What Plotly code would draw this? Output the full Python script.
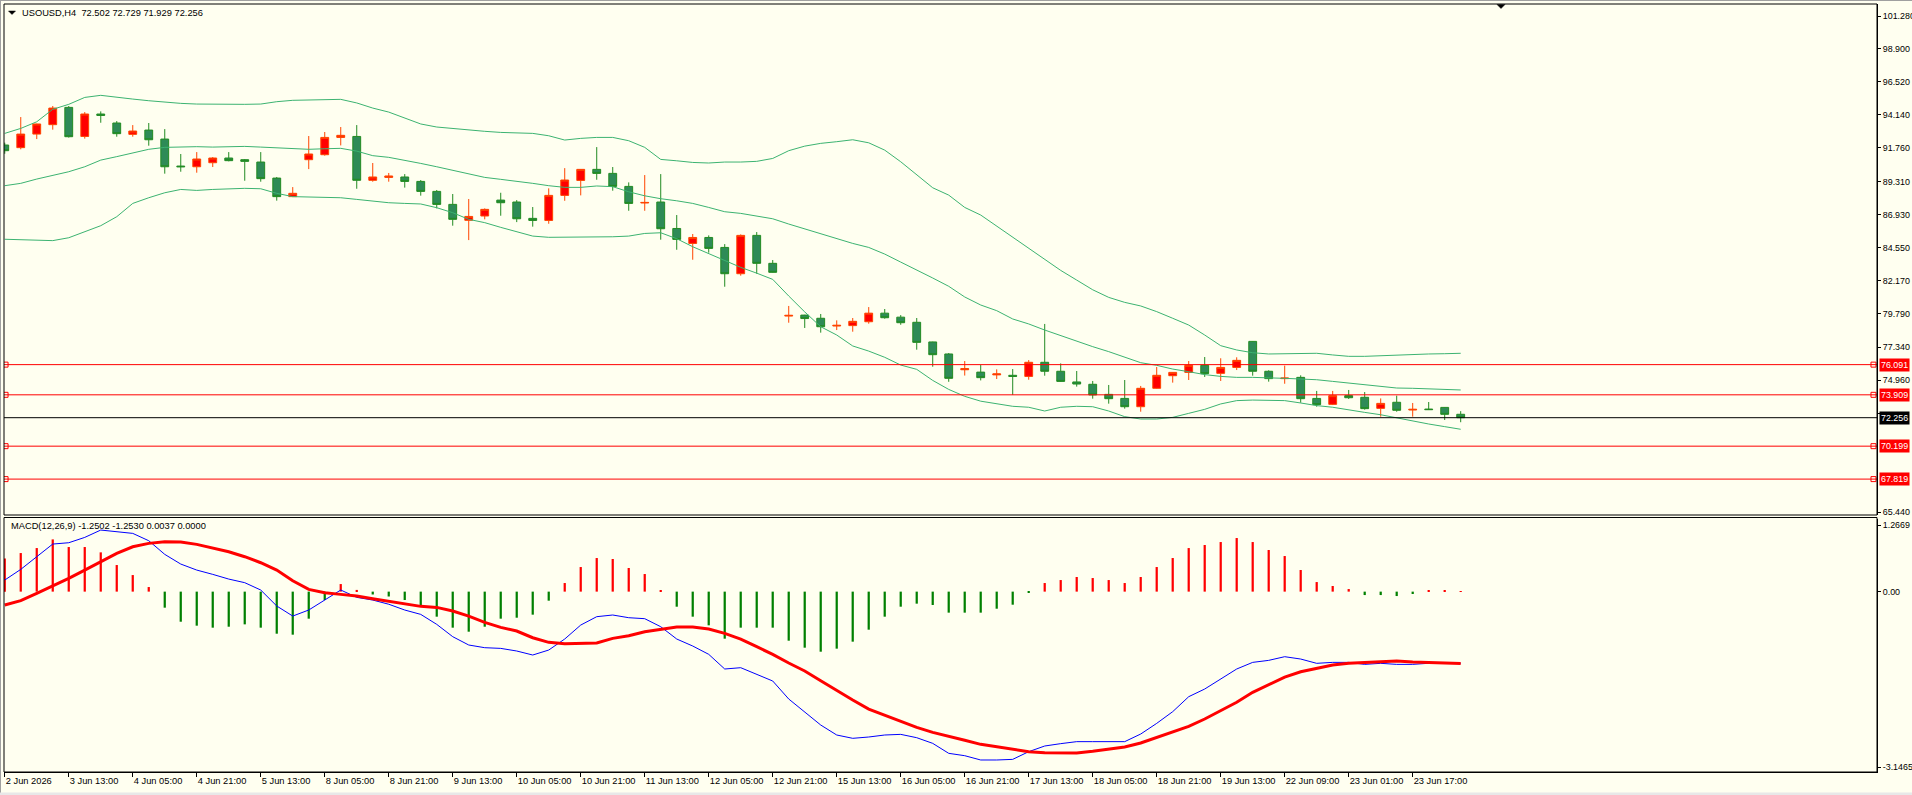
import plotly.graph_objects as go

# ---------------- data ----------------
time_labels = ["2 Jun 2026", "3 Jun 13:00", "4 Jun 05:00", "4 Jun 21:00", "5 Jun 13:00",
               "8 Jun 05:00", "8 Jun 21:00", "9 Jun 13:00", "10 Jun 05:00", "10 Jun 21:00",
               "11 Jun 13:00", "12 Jun 05:00", "12 Jun 21:00", "15 Jun 13:00", "16 Jun 05:00",
               "16 Jun 21:00", "17 Jun 13:00", "18 Jun 05:00", "18 Jun 21:00", "19 Jun 13:00",
               "22 Jun 09:00", "23 Jun 01:00", "23 Jun 17:00"]
time_label_bar = [0, 4, 8, 12, 16, 20, 24, 28, 32, 36, 40, 44, 48, 52, 56, 60, 64, 68, 72, 76, 80, 84, 88]

opens = [91.96, 91.77, 92.75, 93.43, 94.68, 92.58, 94.20, 93.55, 92.73, 93.04,
         92.39, 90.44, 90.39, 90.68, 91.02, 90.90, 90.73, 89.57, 88.23, 90.90,
         91.26, 92.51, 92.58, 89.41, 89.62, 89.65, 89.33, 88.61, 87.67, 86.52,
         86.83, 87.98, 87.84, 86.66, 86.51, 88.32, 89.40, 90.20, 89.91, 88.97,
         87.77, 87.84, 85.93, 84.85, 85.28, 84.56, 82.66, 85.43, 83.41, 79.60,
         79.67, 79.44, 78.88, 78.91, 79.19, 79.81, 79.52, 79.15, 77.73, 76.86,
         75.72, 75.55, 75.35, 75.32, 75.24, 76.26, 75.61, 74.84, 74.67, 73.94,
         73.65, 73.05, 74.38, 75.29, 75.53, 76.04, 75.46, 75.89, 77.77, 75.61,
         75.08, 75.17, 73.65, 73.22, 73.85, 73.73, 72.93, 73.37, 72.81, 72.88,
         73.00, 72.502]
highs = [92.13, 93.98, 93.50, 94.78, 94.78, 94.34, 94.39, 93.69, 93.40, 93.55,
         93.11, 91.31, 91.45, 91.09, 91.45, 90.95, 91.45, 89.65, 88.92, 92.61,
         92.90, 93.26, 93.40, 90.66, 89.94, 89.86, 89.43, 88.71, 88.42, 88.06,
         87.38, 88.51, 87.98, 87.48, 88.83, 90.29, 90.22, 91.81, 90.37, 89.26,
         89.79, 89.86, 86.90, 85.53, 85.43, 84.80, 85.50, 85.67, 83.65, 80.33,
         79.69, 79.75, 79.29, 79.46, 80.25, 80.11, 79.67, 79.46, 77.75, 76.93,
         76.35, 76.06, 75.75, 75.77, 76.42, 79.03, 76.18, 75.63, 74.91, 74.62,
         74.98, 74.55, 75.92, 75.55, 76.35, 76.64, 76.55, 76.62, 77.79, 75.68,
         76.02, 75.32, 74.19, 74.19, 74.26, 74.11, 73.65, 73.85, 73.32, 73.39,
         73.02, 72.729]
lows = [91.33, 91.65, 92.39, 93.07, 92.50, 92.42, 93.57, 92.56, 92.56, 91.91,
        89.89, 90.03, 89.96, 90.37, 90.78, 89.38, 89.31, 87.94, 88.20, 90.22,
        91.19, 91.93, 88.80, 89.31, 89.31, 88.88, 88.30, 87.38, 86.13, 85.09,
        86.59, 86.85, 86.39, 86.06, 86.27, 87.93, 88.32, 89.45, 88.66, 87.21,
        87.21, 85.12, 84.39, 83.67, 84.18, 81.72, 82.52, 82.66, 82.74, 79.12,
        78.74, 78.40, 78.59, 78.47, 79.05, 79.41, 78.97, 77.17, 75.94, 74.85,
        75.30, 74.95, 75.05, 73.90, 75.00, 75.29, 74.85, 74.50, 73.63, 73.27,
        72.91, 72.69, 74.35, 74.79, 74.98, 75.20, 74.91, 75.70, 75.29, 74.86,
        74.71, 73.34, 73.05, 73.17, 73.61, 72.84, 72.33, 72.69, 72.33, 72.81,
        72.09, 71.929]
closes = [91.55, 92.75, 93.48, 94.63, 92.56, 94.20, 94.10, 92.78, 92.97, 92.34,
          90.39, 90.39, 90.95, 91.02, 90.83, 90.78, 89.53, 88.23, 88.47, 91.31,
          92.51, 92.66, 89.41, 89.65, 89.72, 89.33, 88.61, 87.67, 86.59, 86.80,
          87.31, 87.79, 86.63, 86.51, 88.32, 89.43, 90.20, 89.91, 88.97, 87.74,
          87.81, 85.91, 85.14, 85.28, 84.49, 82.66, 85.43, 83.41, 82.76, 79.65,
          79.42, 78.83, 78.93, 79.22, 79.81, 79.48, 79.12, 77.70, 76.81, 75.10,
          75.80, 75.15, 75.42, 75.24, 76.26, 75.61, 74.88, 74.69, 73.90, 73.63,
          73.05, 74.38, 75.32, 75.53, 76.04, 75.44, 75.89, 76.40, 75.61, 75.08,
          75.12, 73.63, 73.20, 73.85, 73.70, 72.91, 73.29, 72.79, 72.86, 72.84,
          72.50, 72.256]

bb_upper = [92.80, 93.16, 93.64, 94.54, 94.90, 95.40, 95.55, 95.40, 95.28, 95.16,
            95.04, 94.97, 94.92, 94.90, 94.90, 94.90, 94.92, 95.09, 95.19, 95.21,
            95.26, 95.26, 95.00, 94.63, 94.34, 93.89, 93.48, 93.26, 93.14, 93.02,
            92.95, 92.87, 92.85, 92.80, 92.63, 92.32, 92.44, 92.51, 92.51, 92.27,
            91.79, 90.92, 90.82, 90.70, 90.66, 90.73, 90.73, 90.78, 90.99, 91.55,
            91.88, 92.08, 92.20, 92.34, 92.12, 91.59, 90.75, 89.79, 88.87, 88.34,
            87.45, 86.90, 86.10, 85.30, 84.50, 83.70, 82.90, 82.20, 81.50, 80.95,
            80.59, 80.33, 79.92, 79.44, 78.95, 78.23, 77.46, 77.15, 76.95, 76.86,
            76.86, 76.86, 76.91, 76.79, 76.69, 76.69, 76.74, 76.79, 76.83, 76.86,
            76.88, 76.91]
bb_middle = [89.02, 89.19, 89.50, 89.77, 90.03, 90.39, 90.87, 91.12, 91.40, 91.65,
             91.79, 91.84, 91.84, 91.81, 91.84, 91.86, 91.81, 91.77, 91.69, 91.65,
             91.69, 91.72, 91.52, 91.19, 91.07, 90.87, 90.63, 90.39, 90.15, 89.86,
             89.62, 89.48, 89.36, 89.19, 89.02, 88.90, 88.90, 89.00, 88.95, 88.58,
             88.29, 88.08, 87.93, 87.74, 87.45, 87.14, 87.02, 86.83, 86.63, 86.25,
             85.89, 85.53, 85.16, 84.85, 84.56, 84.08, 83.50, 82.95, 82.35, 81.75,
             80.98, 80.40, 79.99, 79.39, 79.03, 78.59, 78.18, 77.82, 77.39, 77.03,
             76.64, 76.23, 76.04, 75.77, 75.58, 75.37, 75.24, 75.17, 75.17, 75.15,
             75.10, 75.05, 75.00, 74.88, 74.76, 74.59, 74.47, 74.40, 74.38, 74.35,
             74.31, 74.26]
bb_lower = [85.15, 85.12, 85.05, 85.05, 85.26, 85.70, 86.13, 86.78, 87.74, 88.15,
            88.51, 88.75, 88.68, 88.75, 88.80, 88.83, 88.80, 88.47, 88.23, 88.20,
            88.20, 88.15, 88.03, 87.91, 87.79, 87.74, 87.70, 87.43, 87.07, 86.59,
            86.35, 86.01, 85.69, 85.38, 85.29, 85.29, 85.29, 85.33, 85.33, 85.38,
            85.57, 85.62, 85.19, 84.61, 84.13, 83.65, 83.12, 82.70, 82.25, 81.05,
            79.90, 78.83, 78.23, 77.44, 77.07, 76.62, 76.06, 75.75, 74.95, 74.30,
            73.80, 73.45, 73.25, 73.08, 73.01, 72.74, 73.01, 73.08, 73.05, 72.74,
            72.33, 72.16, 72.16, 72.28, 72.57, 72.86, 73.25, 73.49, 73.53, 73.53,
            73.49, 73.32, 73.13, 73.01, 72.81, 72.64, 72.47, 72.23, 72.04, 71.80,
            71.61, 71.42]

macd_hist = [0.58, 0.673, 0.76, 0.911, 0.778, 0.778, 0.685, 0.464, 0.289, 0.08,
             -0.28, -0.525, -0.594, -0.629, -0.612, -0.571, -0.629, -0.734, -0.751, -0.472,
             -0.147, 0.132, 0.03, -0.05, -0.085, -0.146, -0.245, -0.437, -0.629, -0.699,
             -0.612, -0.472, -0.455, -0.402, -0.158, 0.15, 0.429, 0.586, 0.569, 0.412,
             0.307, 0.028, -0.263, -0.437, -0.588, -0.821, -0.629, -0.629, -0.629, -0.856,
             -0.978, -1.048, -0.995, -0.873, -0.664, -0.437, -0.263, -0.21, -0.233, -0.367,
             -0.367, -0.367, -0.298, -0.228, -0.02, 0.15, 0.202, 0.255, 0.237, 0.202,
             0.15, 0.255, 0.429, 0.586, 0.76, 0.813, 0.865, 0.935, 0.865, 0.726,
             0.621, 0.377, 0.167, 0.098, 0.045, -0.06, -0.06, -0.077, -0.042, 0.02,
             0.02, 0.0037]
macd_line = [0.202, 0.388, 0.609, 0.83, 0.853, 0.946, 1.074, 1.045, 1.016, 0.888,
             0.65, 0.481, 0.376, 0.301, 0.219, 0.156, 0.028, -0.251, -0.426, -0.321,
             -0.147, 0.028, -0.1, -0.147, -0.22, -0.321, -0.397, -0.571, -0.786, -0.931,
             -0.978, -0.99, -1.036, -1.106, -1.019, -0.827, -0.583, -0.437, -0.408, -0.455,
             -0.472, -0.612, -0.827, -0.949, -1.094, -1.35, -1.327, -1.443, -1.559, -1.873,
             -2.106, -2.327, -2.501, -2.559, -2.536, -2.501, -2.49, -2.548, -2.647, -2.821,
             -2.862, -2.937, -2.937, -2.926, -2.792, -2.693, -2.652, -2.617, -2.617, -2.617,
             -2.617, -2.484, -2.298, -2.094, -1.833, -1.699, -1.524, -1.35, -1.234, -1.199,
             -1.135, -1.176, -1.251, -1.234, -1.234, -1.269, -1.251, -1.269, -1.269, -1.25,
             -1.25, -1.2502]
macd_signal = [-0.234, -0.158, -0.03, 0.098, 0.231, 0.376, 0.522, 0.667, 0.783, 0.842,
               0.871, 0.865, 0.824, 0.766, 0.696, 0.609, 0.504, 0.376, 0.19, 0.039,
               -0.019, -0.048, -0.077, -0.124, -0.17, -0.216, -0.257, -0.275, -0.338, -0.426,
               -0.536, -0.623, -0.687, -0.804, -0.885, -0.908, -0.908, -0.897, -0.815, -0.769,
               -0.699, -0.658, -0.618, -0.618, -0.652, -0.728, -0.827, -0.961, -1.094, -1.245,
               -1.385, -1.554, -1.728, -1.891, -2.048, -2.152, -2.257, -2.367, -2.455, -2.53,
               -2.594, -2.664, -2.705, -2.751, -2.792, -2.809, -2.815, -2.815, -2.786, -2.751,
               -2.711, -2.641, -2.542, -2.443, -2.35, -2.222, -2.083, -1.931, -1.757, -1.617,
               -1.49, -1.397, -1.338, -1.28, -1.251, -1.234, -1.222, -1.211, -1.228, -1.24,
               -1.24, -1.253]

price_ticks = [101.28, 98.90, 96.52, 94.14, 91.76, 89.31, 86.93, 84.55, 82.17, 79.79, 77.34, 74.96, 72.58, 65.44]
price_tick_text = ["101.280", "98.900", "96.520", "94.140", "91.760", "89.310", "86.930", "84.550",
                   "82.170", "79.790", "77.340", "74.960", "", "65.440"]
red_levels = [76.091, 73.909, 70.199, 67.819]
bid_level = 72.256
macd_range = [-3.1465, 1.2669]
header_text = "USOUSD,H4\u00a0\u00a072.502 72.729 71.929 72.256"
macd_text = "MACD(12,26,9) -1.2502 -1.2530 0.0037 0.0000"

# ---------------- figure ----------------
W, H = 1912, 795
ML, MR, MT, MB = 4, 35, 4, 23
PW, PH = W - ML - MR, H - MT - MB

def px2x(px):
    return (px - ML) / PW

def py2y(py):
    return (H - MB - py) / PH

main_dom = [py2y(515), 1.0]
macd_dom = [0.0, py2y(519)]

idx = list(range(len(opens)))
BG = "#FFFFF0"
FONT = "Liberation Sans"
FS = 9.3
FS_Y = 8.9

fig = go.Figure()

fig.add_trace(go.Candlestick(
    x=idx, open=opens, high=highs, low=lows, close=closes,
    increasing=dict(line=dict(color="#FF4500", width=1), fillcolor="#FF0000"),
    decreasing=dict(line=dict(color="#228B22", width=1), fillcolor="#2E8B57"),
    whiskerwidth=0, xaxis="x", yaxis="y", hoverinfo="skip"))

for band in (bb_upper, bb_middle, bb_lower):
    fig.add_trace(go.Scatter(x=idx, y=band, mode="lines",
                             line=dict(color="#3CB371", width=1),
                             xaxis="x", yaxis="y", hoverinfo="skip"))

# end markers of the horizontal level lines
for lv in red_levels:
    fig.add_trace(go.Scatter(x=[0.05, 116.8], y=[lv, lv], mode="markers",
                             marker=dict(symbol="square-open", size=5, color="#FF0000",
                                         line=dict(width=1, color="#FF0000")),
                             xaxis="x", yaxis="y", hoverinfo="skip"))

hist_colors = ["#FF0000" if v >= 0 else "#008000" for v in macd_hist]
fig.add_trace(go.Bar(x=idx, y=macd_hist, width=0.14, marker=dict(color=hist_colors, line=dict(width=0)),
                     xaxis="x", yaxis="y2", hoverinfo="skip"))
fig.add_trace(go.Scatter(x=idx, y=macd_line, mode="lines", line=dict(color="#0000FF", width=1),
                         xaxis="x", yaxis="y2", hoverinfo="skip"))
fig.add_trace(go.Scatter(x=idx, y=macd_signal, mode="lines", line=dict(color="#FF0000", width=3),
                         xaxis="x", yaxis="y2", hoverinfo="skip"))

shapes = []
for lv in red_levels:
    shapes.append(dict(type="line", xref="paper", yref="y", x0=0, x1=1, y0=lv, y1=lv,
                       line=dict(color="#FF0000", width=1)))
shapes.append(dict(type="line", xref="paper", yref="y", x0=0, x1=1, y0=bid_level, y1=bid_level,
                   line=dict(color="#000000", width=1)))
# panel borders
shapes.append(dict(type="rect", xref="paper", yref="paper", x0=0, x1=1, y0=main_dom[0], y1=1,
                   line=dict(color="#000000", width=1), layer="above"))
shapes.append(dict(type="rect", xref="paper", yref="paper", x0=0, x1=1, y0=0, y1=py2y(517.5),
                   line=dict(color="#000000", width=1), layer="above"))
# window frame
shapes.append(dict(type="line", xref="paper", yref="paper", x0=px2x(0.5), x1=px2x(0.5), y0=py2y(0), y1=py2y(795),
                   line=dict(color="#A0A0A0", width=1)))
shapes.append(dict(type="line", xref="paper", yref="paper", x0=px2x(0), x1=px2x(1912), y0=py2y(0.5), y1=py2y(0.5),
                   line=dict(color="#A0A0A0", width=1)))
shapes.append(dict(type="rect", xref="paper", yref="paper", x0=px2x(0), x1=px2x(1912), y0=py2y(796), y1=py2y(792.5),
                   line=dict(width=0), fillcolor="#E8E8E8"))
# small triangles
def tri(x0, x1, ytop, ybot):
    xm = (x0 + x1) / 2
    return "M {} {} L {} {} L {} {} Z".format(px2x(x0), py2y(ytop), px2x(x1), py2y(ytop), px2x(xm), py2y(ybot))
shapes.append(dict(type="path", xref="paper", yref="paper", path=tri(8.5, 15.5, 11, 14.5),
                   fillcolor="#000000", line=dict(color="#000000", width=0.5)))
shapes.append(dict(type="path", xref="paper", yref="paper", path=tri(1497, 1505, 4.5, 8.5),
                   fillcolor="#000000", line=dict(color="#000000", width=0.5)))

annotations = [
    dict(xref="paper", yref="paper", x=px2x(20), y=py2y(13), xanchor="left", yanchor="middle",
         text=header_text, showarrow=False, font=dict(family=FONT, size=FS, color="#000000")),
    dict(xref="paper", yref="paper", x=px2x(9), y=py2y(526), xanchor="left", yanchor="middle",
         text=macd_text, showarrow=False, font=dict(family=FONT, size=FS, color="#000000")),
]
for lv in red_levels:
    annotations.append(dict(xref="paper", yref="y", x=1, xshift=2, y=lv, xanchor="left", yanchor="middle",
                            text="{:.3f}".format(lv), showarrow=False, bgcolor="#FF0000", borderpad=1,
                            font=dict(family=FONT, size=FS_Y, color="#FFFFFF")))
annotations.append(dict(xref="paper", yref="y", x=1, xshift=2, y=bid_level, xanchor="left", yanchor="middle",
                        text="{:.3f}".format(bid_level), showarrow=False, bgcolor="#000000", borderpad=1,
                        font=dict(family=FONT, size=FS_Y, color="#FFFFFF")))

axis_font = dict(family=FONT, size=FS, color="#000000")
y_font = dict(family=FONT, size=FS_Y, color="#000000")
fig.update_layout(
    width=W, height=H,
    margin=dict(l=ML, r=MR, t=MT, b=MB, pad=0, autoexpand=False),
    paper_bgcolor=BG, plot_bgcolor=BG,
    showlegend=False,
    font=axis_font,
    shapes=shapes,
    annotations=annotations,
    xaxis=dict(domain=[0, 1], anchor="y2", range=[-0.047, 117.02],
               tickmode="array", tickvals=time_label_bar, ticktext=time_labels,
               ticks="outside", ticklen=4, tickcolor="#000000", tickangle=0,
               ticklabelposition="outside right", automargin=False,
               showline=True, linecolor="#000000", linewidth=1,
               showgrid=False, zeroline=False, tickfont=axis_font,
               rangeslider=dict(visible=False), fixedrange=True),
    yaxis=dict(domain=main_dom, anchor="x", side="right", range=[65.225, 102.15],
               tickmode="array", tickvals=price_ticks, ticktext=price_tick_text,
               ticks="outside", ticklen=3, tickcolor="#000000", automargin=False,
               showline=True, linecolor="#000000", linewidth=1,
               showgrid=False, zeroline=False, tickfont=y_font, fixedrange=True),
    yaxis2=dict(domain=macd_dom, anchor="x", side="right", range=macd_range,
                tickmode="array", tickvals=[1.16, 0.0, -3.06], ticktext=["1.2669", "0.00", "-3.1465"],
                ticks="outside", ticklen=3, tickcolor="#000000", automargin=False,
                showline=True, linecolor="#000000", linewidth=1,
                showgrid=False, zeroline=False, tickfont=y_font, fixedrange=True),
)

fig.write_html("out.html")
